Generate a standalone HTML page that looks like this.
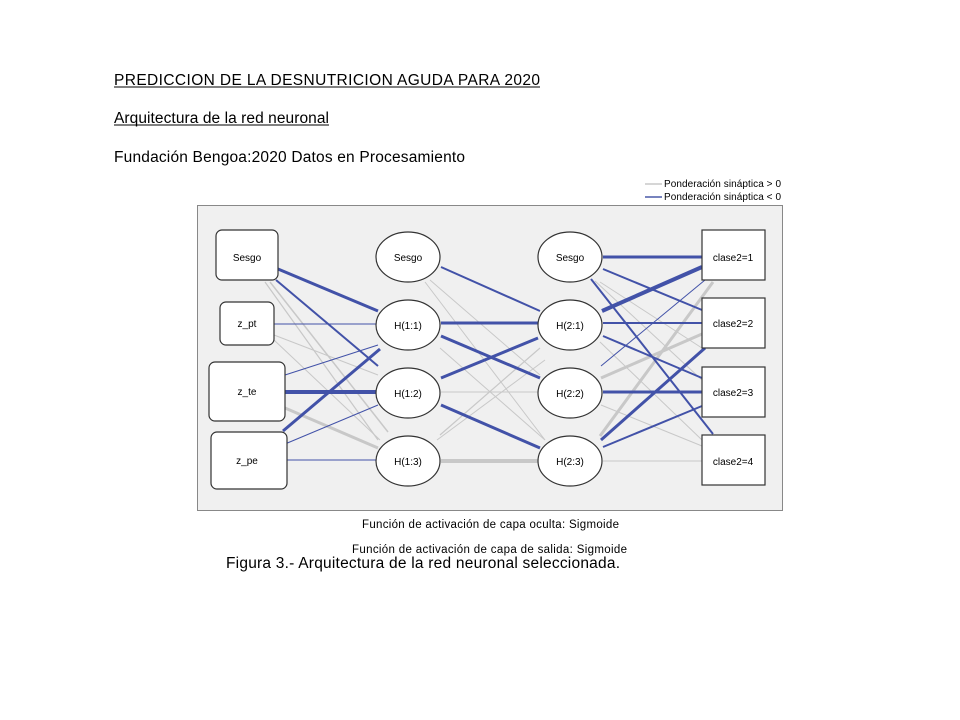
<!DOCTYPE html>
<html><head><meta charset="utf-8"><style>
html,body{margin:0;padding:0;background:#fff;width:960px;height:720px;overflow:hidden}
svg{display:block}
</style></head><body>
<svg width="960" height="720" xmlns="http://www.w3.org/2000/svg" font-family="Liberation Sans, Arial, sans-serif">
<text x="114" y="85" font-size="15.5" textLength="426" lengthAdjust="spacing">PREDICCION DE LA DESNUTRICION  AGUDA PARA 2020</text>
<line x1="114" y1="87" x2="540" y2="87" stroke="#000" stroke-width="1"/>
<text x="114" y="123" font-size="15.5" textLength="215" lengthAdjust="spacing">Arquitectura de la red neuronal</text>
<line x1="114" y1="125" x2="329" y2="125" stroke="#000" stroke-width="1"/>
<text x="114" y="162" font-size="15.5" textLength="351" lengthAdjust="spacing">Fundación Bengoa:2020 Datos en Procesamiento</text>

<line x1="645" y1="184" x2="662" y2="184" stroke="#c8c8c8" stroke-width="1.5"/>
<line x1="645" y1="197" x2="662" y2="197" stroke="#4a5aa8" stroke-width="1.5"/>
<text x="664" y="187" font-size="10" textLength="117" lengthAdjust="spacing">Ponderación sináptica &gt; 0</text>
<text x="664" y="200" font-size="10" textLength="117" lengthAdjust="spacing">Ponderación sináptica &lt; 0</text>

<rect x="197.5" y="205.5" width="585" height="305" fill="#f0f0f0" stroke="#888" stroke-width="1"/>

<g stroke="#c8c8c8" fill="none">
<line x1="270" y1="282" x2="388" y2="432" stroke-width="1.5"/>
<line x1="265" y1="282" x2="378" y2="440" stroke-width="1.2"/>
<line x1="274" y1="335" x2="378" y2="375" stroke-width="1"/>
<line x1="274" y1="340" x2="380" y2="440" stroke-width="1"/>
<line x1="285" y1="408" x2="378" y2="448" stroke-width="3"/>
<line x1="430" y1="280" x2="540" y2="375" stroke-width="1"/>
<line x1="425" y1="282" x2="545" y2="440" stroke-width="1"/>
<line x1="440" y1="348" x2="545" y2="440" stroke-width="1"/>
<line x1="441" y1="392" x2="538" y2="392" stroke-width="1"/>
<line x1="440" y1="435" x2="540" y2="348" stroke-width="1.2"/>
<line x1="437" y1="440" x2="545" y2="360" stroke-width="1"/>
<line x1="441" y1="461" x2="538" y2="461" stroke-width="4"/>
<line x1="595" y1="281" x2="702" y2="380" stroke-width="1"/>
<line x1="600" y1="282" x2="705" y2="350" stroke-width="1"/>
<line x1="600" y1="342" x2="702" y2="440" stroke-width="1"/>
<line x1="601" y1="378" x2="702" y2="334" stroke-width="3"/>
<line x1="601" y1="405" x2="702" y2="446" stroke-width="1"/>
<line x1="600" y1="436" x2="713" y2="282" stroke-width="3"/>
<line x1="603" y1="461" x2="702" y2="461" stroke-width="1"/>
</g>
<g stroke="#4252a8" fill="none">
<line x1="278" y1="269" x2="378" y2="311" stroke-width="3"/>
<line x1="276" y1="280" x2="378" y2="366" stroke-width="2"/>
<line x1="274" y1="324" x2="376" y2="324" stroke-width="1"/>
<line x1="285" y1="375" x2="378" y2="345" stroke-width="1"/>
<line x1="285" y1="392" x2="376" y2="392" stroke-width="4"/>
<line x1="283" y1="431" x2="380" y2="349" stroke-width="3"/>
<line x1="285" y1="444" x2="378" y2="405" stroke-width="1"/>
<line x1="285" y1="460" x2="376" y2="460" stroke-width="1"/>
<line x1="441" y1="267" x2="540" y2="311" stroke-width="2"/>
<line x1="441" y1="323" x2="538" y2="323" stroke-width="3"/>
<line x1="441" y1="336" x2="540" y2="378" stroke-width="3"/>
<line x1="441" y1="378" x2="538" y2="338" stroke-width="3"/>
<line x1="441" y1="405" x2="540" y2="448" stroke-width="3"/>
<line x1="603" y1="257" x2="702" y2="257" stroke-width="3"/>
<line x1="603" y1="269" x2="702" y2="310" stroke-width="2"/>
<line x1="591" y1="279" x2="713" y2="434" stroke-width="2"/>
<line x1="602" y1="311" x2="702" y2="267" stroke-width="4"/>
<line x1="603" y1="323" x2="702" y2="323" stroke-width="2"/>
<line x1="603" y1="336" x2="702" y2="378" stroke-width="2"/>
<line x1="601" y1="366" x2="705" y2="280" stroke-width="1"/>
<line x1="603" y1="392" x2="702" y2="392" stroke-width="3"/>
<line x1="601" y1="440" x2="705" y2="348" stroke-width="3"/>
<line x1="603" y1="447" x2="702" y2="406" stroke-width="2"/>
</g>

<g fill="#fff" stroke="#333" stroke-width="1.2">
<rect x="216" y="230" width="62" height="50" rx="6"/>
<rect x="220" y="302" width="54" height="43" rx="6"/>
<rect x="209" y="362" width="76" height="59" rx="6"/>
<rect x="211" y="432" width="76" height="57" rx="6"/>
<ellipse cx="408" cy="257" rx="32" ry="25"/>
<ellipse cx="408" cy="325" rx="32" ry="25"/>
<ellipse cx="408" cy="393" rx="32" ry="25"/>
<ellipse cx="408" cy="461" rx="32" ry="25"/>
<ellipse cx="570" cy="257" rx="32" ry="25"/>
<ellipse cx="570" cy="325" rx="32" ry="25"/>
<ellipse cx="570" cy="393" rx="32" ry="25"/>
<ellipse cx="570" cy="461" rx="32" ry="25"/>
<rect x="702" y="230" width="63" height="50"/>
<rect x="702" y="298" width="63" height="50"/>
<rect x="702" y="367" width="63" height="50"/>
<rect x="702" y="435" width="63" height="50"/>
</g>
<g font-size="10" text-anchor="middle" fill="#000">
<text x="247" y="261">Sesgo</text>
<text x="247" y="327">z_pt</text>
<text x="247" y="395">z_te</text>
<text x="247" y="464">z_pe</text>
<text x="408" y="261">Sesgo</text>
<text x="408" y="329">H(1:1)</text>
<text x="408" y="397">H(1:2)</text>
<text x="408" y="465">H(1:3)</text>
<text x="570" y="261">Sesgo</text>
<text x="570" y="329">H(2:1)</text>
<text x="570" y="397">H(2:2)</text>
<text x="570" y="465">H(2:3)</text>
<text x="733" y="261">clase2=1</text>
<text x="733" y="327">clase2=2</text>
<text x="733" y="396">clase2=3</text>
<text x="733" y="465">clase2=4</text>
</g>
<text x="362" y="528" font-size="11.5" textLength="257" lengthAdjust="spacing">Función de activación de capa oculta: Sigmoide</text>
<text x="352" y="553" font-size="11.5" textLength="275" lengthAdjust="spacing">Función de activación de capa de salida: Sigmoide</text>
<text x="226" y="568" font-size="15.5" textLength="394" lengthAdjust="spacing">Figura 3.-  Arquitectura de la red neuronal seleccionada.</text>
</svg>
</body></html>
